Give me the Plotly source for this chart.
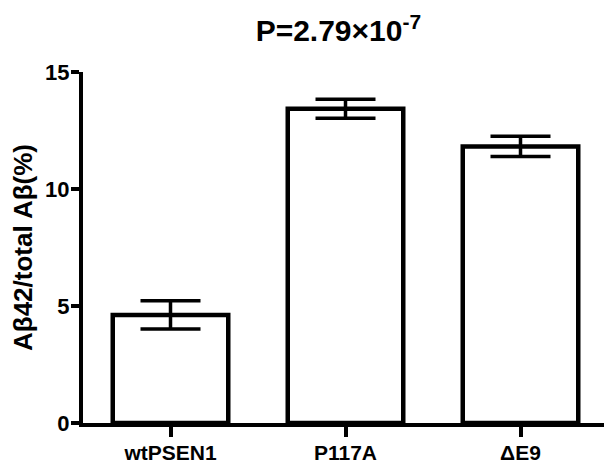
import plotly.graph_objects as go

# data
groups = ["wtPSEN1", "P117A", "ΔE9"]
ratio_pct = [4.62, 13.43, 11.82]
sem = [0.60, 0.41, 0.43]
title_text = "P=2.79×10<sup>-7</sup>"
y_ticks = [0, 5, 10, 15]

FONT = "Arial, Liberation Sans, sans-serif"

# the page body has an 8px margin, so the figure is made 8px smaller
fig = go.Figure()
fig.add_trace(go.Bar(
    x=groups,
    y=ratio_pct,
    width=0.66,
    marker=dict(color="white", line=dict(color="black", width=4.5)),
    error_y=dict(type="data", array=sem, visible=True,
                 color="black", thickness=3.5, width=30),
    showlegend=False,
))

fig.update_layout(
    width=604, height=456,
    margin=dict(l=75, r=4, t=64, b=41),
    plot_bgcolor="white", paper_bgcolor="white",
    font=dict(family=FONT, color="black", size=21, weight="bold"),
    title=dict(text=title_text, x=0.547, xanchor="center",
               yref="container", y=0.95, yanchor="middle",
               font=dict(family=FONT, size=30, weight="bold", color="black")),
)

fig.update_xaxes(
    type="category", range=[-0.5, 2.5], automargin=False,
    showline=True, linecolor="black", linewidth=4,
    ticks="outside", ticklen=10, tickwidth=3.5, tickcolor="black",
    tickfont=dict(family=FONT, size=21, weight="bold"),
    ticklabelstandoff=-2,
    showgrid=False, zeroline=False,
)

fig.update_yaxes(
    range=[0, 15], tickvals=y_ticks, automargin=False,
    showline=True, linecolor="black", linewidth=4,
    ticks="outside", ticklen=8, tickwidth=3.5, tickcolor="black",
    tickfont=dict(family=FONT, size=22, weight="bold"),
    ticklabelstandoff=-3,
    showgrid=False, zeroline=False,
    title=dict(text="Aβ42/total Aβ(%)", standoff=16,
               font=dict(family=FONT, size=26, weight="bold")),
)

fig.write_html("out.html")
